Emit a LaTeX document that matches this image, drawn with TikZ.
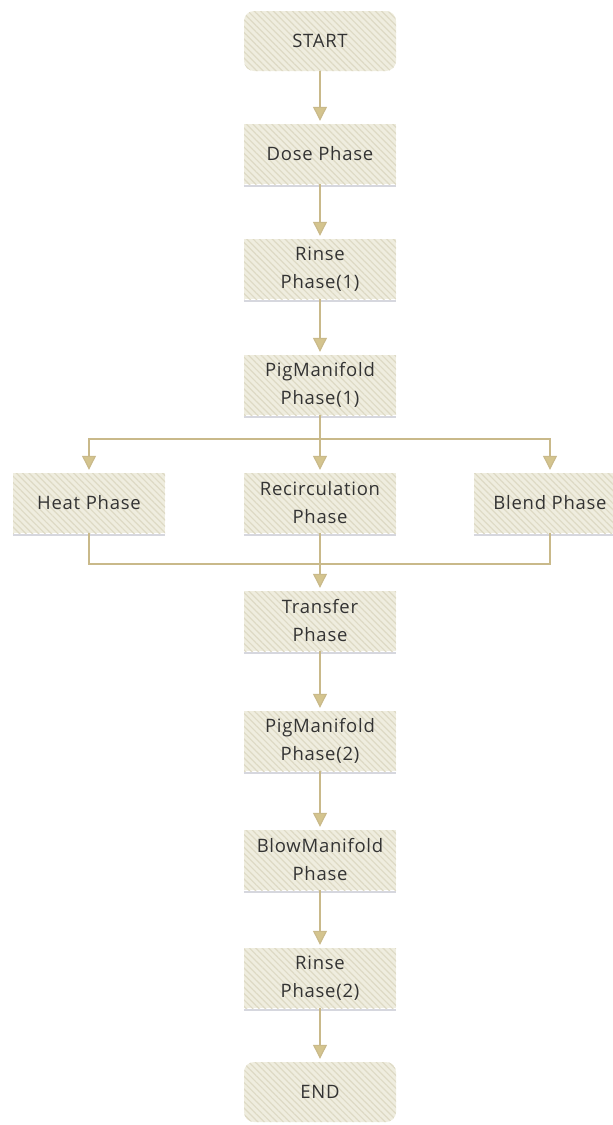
\documentclass[tikz,border=0pt]{standalone}
\usepackage{fontspec}
\setmainfont{Open Sans}[LetterSpace=4]
\usetikzlibrary{arrows.meta,patterns.meta}
\definecolor{boxfill}{HTML}{EFEDDF}
\definecolor{boxhatch}{HTML}{DEDAC5}
\definecolor{flowline}{HTML}{C9B98A}
\definecolor{flowtip}{HTML}{D4C48E}
\definecolor{txt}{HTML}{333333}
\definecolor{shade}{HTML}{D6D7DE}
\tikzset{
  phase/.style={rectangle, minimum width=152pt, minimum height=60pt, inner sep=0pt,
    align=center, fill=boxfill, text=txt,
    font=\fontsize{18.5pt}{28pt}\selectfont,
    postaction={pattern={Lines[angle=-45,distance=4.5pt,line width=1.2pt]}, pattern color=boxhatch}},
  terminal/.style={phase, rounded corners=10pt},
  link/.style={draw=flowline, line width=1.1pt},
  flow/.style={link, -{Triangle[width=14pt,length=14pt,fill=flowtip]}, shorten >=3pt},
  underline/.style={draw=shade, line width=1.6pt}
}
\begin{document}
\begin{tikzpicture}[x=1pt,y=-1pt]
\useasboundingbox (0,0) rectangle (613,1125);

\node[terminal] (start) at (320,41) {START};
\node[phase] (dose)   at (320,154) {Dose Phase};
\node[phase] (rinse1) at (320,269) {Rinse\\Phase(1)};
\node[phase] (pig1)   at (320,385) {PigManifold\\Phase(1)};
\node[phase] (heat)   at (89,503)  {Heat Phase};
\node[phase] (recirc) at (320,503) {Recirculation\\Phase};
\node[phase] (blend)  at (550,503) {Blend Phase};
\node[phase] (transfer) at (320,621) {Transfer\\Phase};
\node[phase] (pig2)   at (320,741) {PigManifold\\Phase(2)};
\node[phase] (blow)   at (320,860) {BlowManifold\\Phase};
\node[phase] (rinse2) at (320,978) {Rinse\\Phase(2)};
\node[terminal] (end) at (320,1092) {END};

% faint rule under each rectangular box
\foreach \n in {dose,rinse1,pig1,heat,recirc,blend,transfer,pig2,blow,rinse2}
  \draw[underline] ([yshift=-2pt]\n.south west) -- ([yshift=-2pt]\n.south east);

\coordinate (split) at (320,439);
\coordinate (merge) at (320,564);

\draw[flow] (start) -- (dose);
\draw[flow] (dose) -- (rinse1);
\draw[flow] (rinse1) -- (pig1);
\draw[flow] (pig1) -- (recirc);
\draw[flow] (split) -| (heat.north);
\draw[flow] (split) -| (blend.north);
\draw[link] (heat.south) |- (merge);
\draw[link] (blend.south) |- (merge);
\draw[flow] (recirc) -- (transfer);
\draw[flow] (transfer) -- (pig2);
\draw[flow] (pig2) -- (blow);
\draw[flow] (blow) -- (rinse2);
\draw[flow] (rinse2) -- (end);
\end{tikzpicture}
\end{document}
